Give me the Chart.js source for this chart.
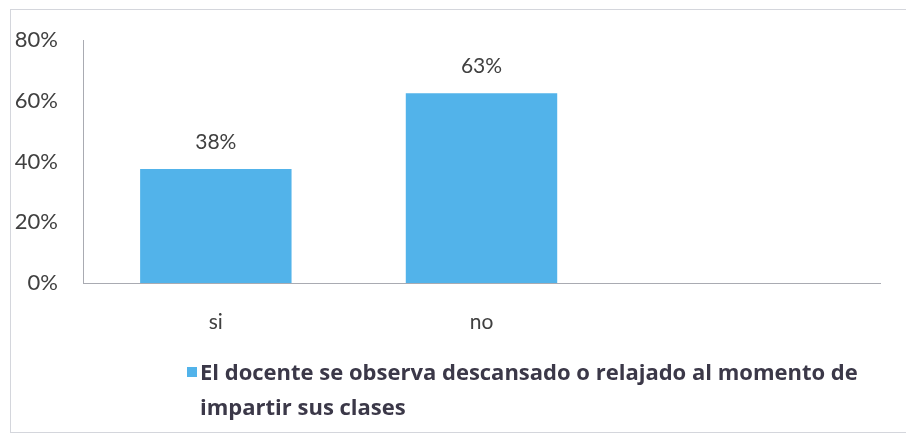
<!DOCTYPE html>
<html>
<head>
<meta charset="utf-8">
<script src="https://cdn.jsdelivr.net/npm/chart.js@4.4.0/dist/chart.umd.min.js"></script>
<style>
  html, body { margin: 0; padding: 0; background: #fff; }
  #wrap { position: relative; width: 906px; height: 437px; overflow: hidden; }
  #frame { position: absolute; left: 10px; top: 9px; width: 910px; height: 424px; border: 1px solid #d4d6dc; box-sizing: border-box; }
  canvas { position: absolute; left: 0; top: 0; }
  #legend { position: absolute; left: 187px; top: 354px; width: 715px; font-family: "Open Sans", Lato, sans-serif; font-weight: bold; font-size: 22px; line-height: 35px; color: #3b3848; white-space: nowrap; }
  #legend .box { position: absolute; left: 0; top: 13px; width: 10px; height: 10px; background: #52b3ea; }
  #legend .txt { margin-left: 13px; }
</style>
</head>
<body>
<div id="wrap">
  <div id="frame"></div>
  <canvas id="c" width="906" height="437"></canvas>
  <div id="legend"><span class="box"></span><div class="txt" id="legendText"></div></div>
</div>
<script>
const categories = ["si", "no", ""];
const seriesName = "El docente se observa descansado o relajado al momento de impartir sus clases";
const values = [37.5, 62.5, null];
const dataLabels = ["38%", "63%", ""];
const yTicks = [0, 20, 40, 60, 80];

document.getElementById('legendText').innerHTML =
  "El docente se observa descansado o relajado al momento de<br>impartir sus clases";

const barLabelPlugin = {
  id: 'barLabels',
  afterDatasetsDraw(chart) {
    const ctx = chart.ctx;
    const meta = chart.getDatasetMeta(0);
    ctx.save();
    ctx.font = '21px Lato, "Open Sans", sans-serif';
    ctx.fillStyle = '#404040';
    ctx.textAlign = 'center';
    ctx.textBaseline = 'bottom';
    meta.data.forEach((bar, i) => {
      if (values[i] == null) return;
      ctx.fillText(dataLabels[i], bar.x, bar.y - 16);
    });
    ctx.restore();
  }
};

new Chart(document.getElementById('c'), {
  type: 'bar',
  data: {
    labels: categories,
    datasets: [{
      label: seriesName,
      data: values,
      backgroundColor: '#52b3ea',
      borderWidth: 0,
      barPercentage: 0.57,
      categoryPercentage: 1.0
    }]
  },
  options: {
    responsive: false,
    animation: false,
    layout: { padding: { left: 0, top: 40, right: 26, bottom: 0 } },
    plugins: {
      legend: { display: false },
      tooltip: { enabled: false }
    },
    scales: {
      x: {
        grid: { display: false, drawTicks: false },
        border: { display: true, color: '#a9abb2', width: 1 },
        ticks: {
          font: { family: 'Lato, "Open Sans", sans-serif', size: 21 },
          color: '#404040',
          padding: 27
        },
        afterFit(scale) { scale.height = 154; }
      },
      y: {
        min: 0,
        max: 80,
        grid: { display: false, drawTicks: false },
        border: { display: true, color: '#a9abb2', width: 1 },
        afterBuildTicks(scale) { scale.ticks = yTicks.map(v => ({ value: v })); },
        ticks: {
          font: { family: 'Lato, "Open Sans", sans-serif', size: 22 },
          color: '#404040',
          padding: 25,
          callback: v => v + '%'
        },
        afterFit(scale) { scale.width = 83; }
      }
    }
  },
  plugins: [barLabelPlugin]
});
</script>
</body>
</html>
